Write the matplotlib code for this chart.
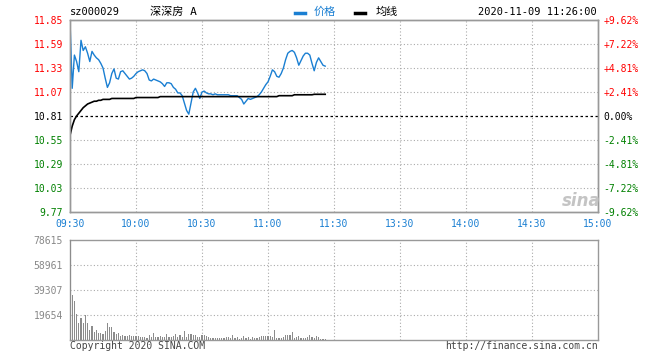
import matplotlib
matplotlib.use('Agg')
import matplotlib.pyplot as plt
from matplotlib.lines import Line2D

# price / average per minute from 09:30 (index 0) to 11:26
price = [11.85, 11.11, 11.47, 11.40, 11.29, 11.63, 11.52, 11.56, 11.49, 11.40,
         11.51, 11.47, 11.44, 11.42, 11.38, 11.33, 11.22, 11.12, 11.17, 11.27,
         11.32, 11.22, 11.21, 11.29, 11.30, 11.27, 11.24, 11.21, 11.22, 11.24,
         11.27, 11.29, 11.30, 11.31, 11.30, 11.27, 11.20, 11.19, 11.21, 11.20,
         11.19, 11.18, 11.16, 11.13, 11.17, 11.17, 11.16, 11.12, 11.10, 11.06,
         11.06, 11.03, 10.95, 10.87, 10.83, 10.95, 11.07, 11.11, 11.06, 11.00,
         11.07, 11.08, 11.06, 11.05, 11.05, 11.04, 11.05, 11.04, 11.04, 11.04,
         11.04, 11.04, 11.04, 11.03, 11.03, 11.03, 11.03, 11.01, 10.99, 10.94,
         10.97, 11.00, 10.99, 11.00, 11.01, 11.02, 11.04, 11.07, 11.11, 11.15,
         11.18, 11.24, 11.31, 11.29, 11.24, 11.23, 11.27, 11.33, 11.42, 11.49,
         11.51, 11.52, 11.50, 11.44, 11.36, 11.41, 11.46, 11.49, 11.49, 11.47,
         11.38, 11.30, 11.39, 11.44, 11.40, 11.36, 11.35]

avg_price = [10.60, 10.70, 10.77, 10.81, 10.84, 10.87, 10.90, 10.92, 10.94, 10.95,
             10.96, 10.97, 10.97, 10.98, 10.98, 10.99, 10.99, 10.99, 10.99, 11.00,
             11.00, 11.00, 11.00, 11.00, 11.00, 11.00, 11.00, 11.00, 11.00, 11.00,
             11.01, 11.01, 11.01, 11.01, 11.01, 11.01, 11.01, 11.01, 11.01, 11.01,
             11.01, 11.02, 11.02, 11.02, 11.02, 11.02, 11.02, 11.02, 11.02, 11.02,
             11.02, 11.02, 11.02, 11.02, 11.02, 11.02, 11.02, 11.02, 11.02, 11.02,
             11.02, 11.02, 11.02, 11.02, 11.02, 11.02, 11.02, 11.02, 11.02, 11.02,
             11.02, 11.02, 11.02, 11.02, 11.02, 11.02, 11.02, 11.02, 11.02, 11.02,
             11.02, 11.02, 11.02, 11.02, 11.02, 11.02, 11.02, 11.02, 11.02, 11.02,
             11.02, 11.02, 11.02, 11.02, 11.02, 11.03, 11.03, 11.03, 11.03, 11.03,
             11.03, 11.03, 11.04, 11.04, 11.04, 11.04, 11.04, 11.04, 11.04, 11.04,
             11.04, 11.045, 11.045, 11.045, 11.045, 11.045, 11.045]

volume = [78615, 35600, 31200, 20700, 13900, 17800, 13400, 19900, 13400, 8100,
          11300, 6800, 8100, 6000, 5500, 5000, 7600, 13900, 10200, 10700,
          6800, 5000, 5500, 3400, 4200, 3700, 3700, 4500, 3700, 3400,
          3100, 3400, 2900, 2400, 2900, 2100, 4200, 2600, 5500, 2400,
          2900, 3400, 2900, 2400, 4700, 2900, 2900, 3400, 5000, 2900,
          4200, 2900, 7300, 2900, 5000, 5000, 4200, 3900, 2400, 2900,
          3900, 4200, 3400, 2400, 1800, 1800, 1600, 1600, 1800, 2100,
          1600, 2400, 2900, 1600, 4200, 1600, 2400, 1300, 1600, 3400,
          2100, 2600, 1300, 2600, 1600, 1600, 2400, 3400, 3400, 3400,
          3400, 3400, 2400, 8100, 1600, 1600, 1600, 2400, 4200, 4200,
          4200, 6500, 1600, 2400, 3400, 1600, 1600, 1600, 2400, 4200,
          2900, 1600, 3400, 2400, 1300, 800, 800]

prev_close = 10.81
price_ticks = [9.77, 10.03, 10.29, 10.55, 10.81, 11.07, 11.33, 11.59, 11.85]
pct_labels = ['-9.62%', '-7.22%', '-4.81%', '-2.41%', '0.00%',
              '+2.41%', '+4.81%', '+7.22%', '+9.62%']
vol_ticks = [19654, 39307, 58961, 78615]
time_labels = ['09:30', '10:00', '10:30', '11:00', '11:30',
               '13:30', '14:00', '14:30', '15:00']

W, H = 660, 360
def fx(x): return x / W
def fy(y): return 1 - y / H

MONO = 'DejaVu Sans Mono'
CJK = [MONO, 'Noto Sans CJK SC']
BLUE = '#1a7fd2'
GRID = '#aaaaaa'
FRAME = '#999999'

fig = plt.figure(figsize=(6.6, 3.6), dpi=100)

ax = fig.add_axes([fx(70), fy(212), fx(598) - fx(70), fy(20) - fy(212)])
axv = fig.add_axes([fx(70), fy(340.3), fx(598) - fx(70), fy(240.3) - fy(340.3)])

minutes = list(range(len(price)))
ax.plot(minutes, price, color=BLUE, lw=1.0, zorder=3)
ax.plot(minutes, avg_price, color='black', lw=1.2, zorder=3)
ax.axhline(prev_close, color='black', lw=0.9, ls=(0, (2, 2)), zorder=2)

ax.set_xlim(0, 240)
ax.set_ylim(price_ticks[0], price_ticks[-1])
ax.set_xticks(range(0, 241, 30))
ax.set_xticklabels(time_labels, family=MONO, fontsize=7, color=BLUE)
ax.set_yticks(price_ticks)
ax.set_yticklabels(['%.2f' % p for p in price_ticks], family=MONO, fontsize=7)

def level_color(p):
    if abs(p - prev_close) < 1e-6:
        return 'black'
    return 'red' if p > prev_close else 'green'

for lbl, p in zip(ax.get_yticklabels(), price_ticks):
    lbl.set_color(level_color(p))

ax2 = ax.twinx()
ax2.set_ylim(ax.get_ylim())
ax2.set_yticks(price_ticks)
ax2.set_yticklabels(pct_labels, family=MONO, fontsize=7)
for lbl, p in zip(ax2.get_yticklabels(), price_ticks):
    lbl.set_color(level_color(p))

for a in (ax, ax2, axv):
    a.tick_params(length=0)
    for s in a.spines.values():
        s.set_color(FRAME)
        s.set_linewidth(1)
ax.tick_params(axis='y', pad=5)
ax.tick_params(axis='x', pad=5)
ax2.tick_params(axis='y', pad=4)

for t in range(30, 240, 30):
    ax.axvline(t, color=GRID, lw=0.8, ls=(0, (1, 2)), zorder=1)
    axv.axvline(t, color=GRID, lw=0.8, ls=(0, (1, 2)), zorder=1)
for p in price_ticks[1:-1]:
    if p != prev_close:
        ax.axhline(p, color=GRID, lw=0.8, ls=(0, (1, 2)), zorder=1)

# volume
axv.bar(minutes, volume, width=0.5, color='#8c8c8c', lw=0, zorder=3)
axv.set_xlim(0, 240)
axv.set_ylim(0, vol_ticks[-1])
axv.set_xticks([])
axv.set_yticks(vol_ticks)
axv.set_yticklabels([str(v) for v in vol_ticks], family=MONO, fontsize=7, color='#888888')
axv.tick_params(axis='y', pad=5)
for v in vol_ticks[:-1]:
    axv.axhline(v, color=GRID, lw=0.8, ls=(0, (1, 2)), zorder=1)

# header
fig.text(fx(70), fy(12), 'sz000029', family=MONO, fontsize=7.5, va='center')
fig.text(fx(150), fy(12), '深深房 A', family=CJK, fontsize=8, va='center')
fig.add_artist(Line2D([fx(295), fx(305)], [fy(12.5), fy(12.5)], color=BLUE, lw=2.5))
fig.text(fx(314), fy(12), '价格', family=CJK, fontsize=8, color=BLUE, va='center')
fig.add_artist(Line2D([fx(355), fx(365)], [fy(12.5), fy(12.5)], color='black', lw=2.5))
fig.text(fx(376), fy(12), '均线', family=CJK, fontsize=8, color='black', va='center')
fig.text(fx(597), fy(12), '2020-11-09 11:26:00', family=MONO, fontsize=7.5,
         va='center', ha='right')

# watermark
fig.text(fx(581), fy(201), 'sina', fontsize=12, fontweight='bold', style='italic',
         color='#c4c4c4', ha='center', va='center')

# footer
fig.text(fx(70), fy(346), 'Copyright 2020 SINA.COM', family=MONO, fontsize=7,
         color='#444444', va='center')
fig.text(fx(598), fy(346), 'http://finance.sina.com.cn', family=MONO, fontsize=7,
         color='#444444', va='center', ha='right')

fig.savefig('out.png', dpi=100, facecolor='white')
